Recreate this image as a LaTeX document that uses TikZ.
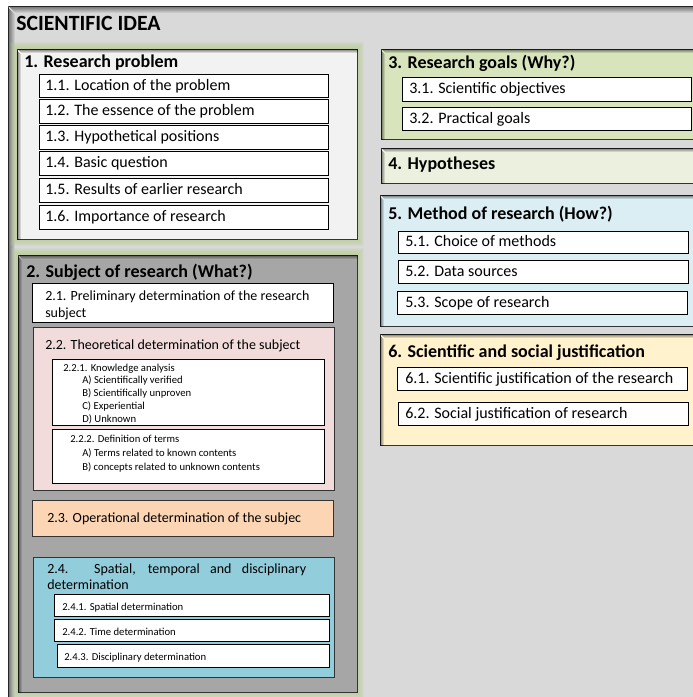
\documentclass[tikz,border=0pt]{standalone}
\usepackage{fontspec}
\setmainfont{Carlito}
\usetikzlibrary{fit}
\definecolor{framefill}{HTML}{D9D9D9}
\definecolor{glowc}{HTML}{B5CC8A}
\definecolor{fillA}{HTML}{F2F2F2}
\definecolor{fillB}{HTML}{A6A6A6}
\definecolor{fillC}{HTML}{F2DCDB}
\definecolor{fillD}{HTML}{FCD5B4}
\definecolor{fillE}{HTML}{92CDDC}
\definecolor{fillF}{HTML}{D8E4BC}
\definecolor{fillG}{HTML}{EBF1DE}
\definecolor{fillH}{HTML}{DAEEF3}
\definecolor{fillI}{HTML}{FFF2CC}
\tikzset{
  box/.style={draw=black!80, line width=0.75pt, inner sep=0pt, fill=#1},
  sub/.style={draw=black, line width=0.75pt, inner sep=0pt, fill=white},
  bigttl/.style={anchor=mid west, yshift=-1.5pt, inner sep=0pt, font=\fontsize{16.3pt}{19pt}\selectfont\bfseries},
  ttl/.style={anchor=mid west, yshift=-1.5pt, inner sep=0pt, font=\fontsize{13.5pt}{16pt}\selectfont\bfseries},
  txtA/.style={anchor=mid west, yshift=-1.3pt, inner sep=0pt, font=\fontsize{12pt}{14pt}\selectfont},
  txtB/.style={anchor=mid west, yshift=-1.2pt, inner sep=0pt, font=\fontsize{10.5pt}{12.75pt}\selectfont},
  txtC/.style={anchor=mid west, yshift=-0.9pt, inner sep=0pt, font=\fontsize{8pt}{9.75pt}\selectfont},
  multi/.style={anchor=west, align=left}
}
\newcommand\ishadow[2]{%
  \foreach \d in {1,...,#2} {
    \pgfmathsetmacro\op{0.5*(1-(\d-1)/#2)}
    \draw[black, opacity=\op, line width=0.75pt] ([shift={(\d,\d)}]#1.north west) -- ([shift={(0,\d)}]#1.north east);
    \draw[black, opacity=\op, line width=0.75pt] ([shift={(\d,\d+1)}]#1.north west) -- ([shift={(\d,0)}]#1.south west);
  }}
\newcommand\glow[4]{%
  \foreach \d in {7,...,1} {
    \fill[glowc, opacity=0.14] ({#1-\d},{#2-\d}) rectangle ({#3+\d},{#4+\d});
  }}
\begin{document}
\begin{tikzpicture}[x=0.75pt,y=-0.75pt]
\useasboundingbox (0,0) rectangle (693,697);
\clip (0,0) rectangle (693,697);
\fill[white] (0,0) rectangle (693,697);
% outer frame
\node[box=framefill, draw=black!70, fit={(8,6)(720,720)}] (frame) {};
\ishadow{frame}{7}
\node[bigttl] (t0) at (16,25) {SCIENTIFIC IDEA};
% glows of left column
\glow{17}{49}{357}{239}
\glow{18}{255}{357}{692}
% box 1
\node[box=fillA, fit={(17,49)(357,239)}] (b1) {};
\ishadow{b1}{4}
\node[ttl] (t1) at (24,62) {1. Research problem};
\node[sub, fit={(39,74)(328,97)}] (s11) {};
\node[sub, fit={(39,99)(328,123)}] (s12) {};
\node[sub, fit={(39,125)(328,149)}] (s13) {};
\node[sub, fit={(39,151)(328,175)}] (s14) {};
\node[sub, fit={(39,178)(328,202)}] (s15) {};
\node[sub, fit={(39,205)(328,229)}] (s16) {};
\node[txtA] (x11) at (45,85.5) {1.1. Location of the problem};
\node[txtA] (x12) at (45,111) {1.2. The essence of the problem};
\node[txtA] (x13) at (45,137) {1.3. Hypothetical positions};
\node[txtA] (x14) at (45,163) {1.4. Basic question};
\node[txtA] (x15) at (45,190) {1.5. Results of earlier research};
\node[txtA] (x16) at (45,217) {1.6. Importance of research};
% box 2
\node[box=fillB, fit={(18,255)(357,692)}] (b2) {};
\ishadow{b2}{4}
\node[ttl] (t2) at (26,272) {2. Subject of research (What?)};
\node[sub, fit={(32,283)(333,322)}] (s21) {};
\node[txtB, multi, font=\fontsize{10.5pt}{12.75pt}\selectfont] (x21) at (45,303.5) {2.1. Preliminary determination of the research\\subject};
\node[box=fillC, fit={(33,327)(334,490)}] (s22) {};
\node[txtB] (x22) at (45,345) {2.2. Theoretical determination of the subject};
\node[sub, fit={(52,359)(324,425)}] (s221) {};
\node[txtC] (x221) at (63,367) {2.2.1. Knowledge analysis};
\node[txtC, multi] (y221) at (82,398.5) {A) Scientifically verified\\B) Scientifically unproven\\C) Experiential\\D) Unknown};
\node[sub, fit={(52,429)(324,483)}] (s222) {};
\node[txtC] (x222) at (70,438) {2.2.2. Definition of terms};
\node[txtC, multi, font=\fontsize{8pt}{10.5pt}\selectfont] (y222) at (82,459) {A) Terms related to known contents\\B) concepts related to unknown contents};
\node[box=fillD, fit={(32,500)(333,536)}] (s23) {};
\node[txtB] (x23) at (47,518) {2.3. Operational determination of the subjec};
\node[box=fillE, fit={(33,557)(334,677)}] (s24) {};
\node[txtB, multi, font=\fontsize{10.5pt}{12pt}\selectfont] (x24) at (47,575) {\makebox[194.25pt][s]{2.4. Spatial, temporal and disciplinary}\\determination};
\node[sub, fit={(54,594)(329,616)}] (s241) {};
\node[sub, fit={(54,619)(329,641)}] (s242) {};
\node[sub, fit={(57,644)(329,667)}] (s243) {};
\node[txtC] (x241) at (62,606) {2.4.1. Spatial determination};
\node[txtC] (x242) at (62,631) {2.4.2. Time determination};
\node[txtC] (x243) at (64,656) {2.4.3. Disciplinary determination};
% box 3
\node[box=fillF, fit={(381,49)(720,139)}] (b3) {};
\ishadow{b3}{4}
\node[ttl] (t3) at (388,63) {3. Research goals (Why?)};
\node[sub, fit={(402,77)(691,101)}] (s31) {};
\node[sub, fit={(402,107)(691,130)}] (s32) {};
\node[txtA] (x31) at (409,89) {3.1. Scientific objectives};
\node[txtA] (x32) at (409,118.5) {3.2. Practical goals};
% box 4
\node[box=fillG, fit={(381,148)(720,183)}] (b4) {};
\ishadow{b4}{4}
\node[ttl] (t4) at (388,164) {4. Hypotheses};
% box 5
\node[box=fillH, fit={(380,195)(720,326)}] (b5) {};
\ishadow{b5}{4}
\node[ttl] (t5) at (388,214) {5. Method of research (How?)};
\node[sub, fit={(398,231)(688,253)}] (s51) {};
\node[sub, fit={(398,260)(688,283)}] (s52) {};
\node[sub, fit={(397,291)(687,314)}] (s53) {};
\node[txtA] (x51) at (405,242) {5.1. Choice of methods};
\node[txtA] (x52) at (405,271.5) {5.2. Data sources};
\node[txtA] (x53) at (405,302.5) {5.3. Scope of research};
% box 6
\node[box=fillI, fit={(380,334)(720,445)}] (b6) {};
\ishadow{b6}{4}
\node[ttl] (t6) at (388,352) {6. Scientific and social justification};
\node[sub, fit={(397,367)(687,390)}] (s61) {};
\node[sub, fit={(398,402)(688,425)}] (s62) {};
\node[txtA] (x61) at (405,378.5) {6.1. Scientific justification of the research};
\node[txtA] (x62) at (405,413.5) {6.2. Social justification of research};
\end{tikzpicture}
\end{document}
